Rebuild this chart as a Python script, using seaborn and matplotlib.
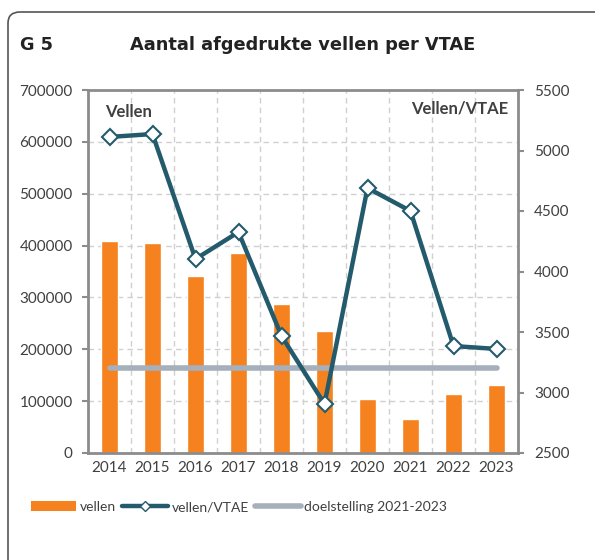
import numpy as np
import pandas as pd
import matplotlib
matplotlib.use("Agg")
import matplotlib.pyplot as plt
import seaborn as sns
from matplotlib.patches import FancyBboxPatch, Patch
from matplotlib.lines import Line2D

# data
jaren = ['2014', '2015', '2016', '2017', '2018', '2019', '2020', '2021', '2022', '2023']
vellen = [409000, 405000, 341000, 385000, 287000, 235000, 104000, 65000, 114000, 131000]
vellen_vtae = [5112, 5136, 4103, 4326, 3467, 2905, 4690, 4500, 3384, 3360]
doelstelling = [3200] * 10

ORANJE = '#F5821F'
BLAUW = '#245B6C'
GRIJS = '#A5B0BC'
AS = '#8C8C8C'
TEKST = '#404040'

sns.set_style('white')
plt.rcParams['font.family'] = ['Lato', 'DejaVu Sans']

fig = plt.figure(figsize=(5.95, 5.6), dpi=100)

# kader rond de grafiek
kader = FancyBboxPatch((8 / 595, -0.05), 1.2, 1 - 12 / 560 + 0.05,
                       boxstyle='round,pad=0,rounding_size=0.02',
                       transform=fig.transFigure, fill=False,
                       edgecolor='#555555', linewidth=1.2, clip_on=False)
fig.patches.append(kader)

fig.text(20 / 595, 1 - 45 / 560, 'G 5', fontsize=12.7, fontweight='bold',
         color='#222222', va='center', family='DejaVu Sans')
fig.text(130 / 595, 1 - 45 / 560, 'Aantal afgedrukte vellen per VTAE',
         fontsize=12.8, fontweight='bold', color='#222222', va='center',
         family='DejaVu Sans')

ax = fig.add_axes([88 / 595, 1 - 453 / 560, (518 - 88) / 595, (453 - 90) / 560])
df = pd.DataFrame({'jaar': jaren, 'vellen': vellen})
sns.barplot(data=df, x='jaar', y='vellen', color=ORANJE, width=0.4,
            saturation=1, ax=ax, zorder=2)
ax.set_xlim(-0.5, len(jaren) - 0.5)
ax.set_ylim(0, 700000)
ax.set_yticks(np.arange(0, 700001, 100000))
ax.set_xlabel('')
ax.set_ylabel('')

ax2 = ax.twinx()
pos = np.arange(len(jaren))
ax2.plot(pos, doelstelling, color=GRIJS, lw=4, solid_capstyle='round', zorder=3)
sns.lineplot(x=pos, y=vellen_vtae, color=BLAUW, lw=3.2, marker='D',
             markersize=8, markerfacecolor='white', markeredgecolor=BLAUW,
             markeredgewidth=1.5, ax=ax2, zorder=4)
ax2.set_ylim(2500, 5500)
ax2.set_yticks(np.arange(2500, 5501, 500))
ax2.set_xlim(-0.5, len(jaren) - 0.5)

# rasterlijnen
ax.set_xticks(np.arange(-0.5, len(jaren), 1), minor=True)
ax.grid(True, which='major', axis='y', ls=(0, (4, 3)), color='#D0D0D0', lw=1)
ax.grid(True, which='minor', axis='x', ls=(0, (4, 3)), color='#D0D0D0', lw=1)
ax.set_axisbelow(True)

for a in (ax, ax2):
    for s in a.spines.values():
        s.set_visible(False)
ax.spines['left'].set_visible(True)
ax.spines['bottom'].set_visible(True)
ax.spines['top'].set_visible(True)
ax2.spines['right'].set_visible(True)
for s in ('left', 'bottom', 'top'):
    ax.spines[s].set_color(AS)
    ax.spines[s].set_linewidth(2)
ax2.spines['right'].set_color(AS)
ax2.spines['right'].set_linewidth(2)

ax.tick_params(axis='y', which='major', length=4.5, width=1.5, color=AS,
               labelsize=11, labelcolor=TEKST, pad=6.5)
ax.tick_params(axis='x', which='major', length=0, labelsize=11,
               labelcolor=TEKST, pad=6)
ax.tick_params(axis='x', which='minor', length=4.5, width=1.5, color=AS)
ax2.tick_params(axis='y', length=4.5, width=1.5, color=AS, labelsize=11,
                labelcolor=TEKST, pad=7)

ax.text(0.04, 0.94, 'Vellen', transform=ax.transAxes, fontsize=12,
        fontweight='bold', color=TEKST, va='center')
ax.text(0.978, 0.95, 'Vellen/VTAE', transform=ax.transAxes, fontsize=12,
        fontweight='bold', color=TEKST, va='center', ha='right')

handles = [
    Patch(facecolor=ORANJE, edgecolor='none'),
    Line2D([0], [0], color=BLAUW, lw=3.2, marker='D', markersize=5,
           markerfacecolor='white', markeredgecolor=BLAUW),
    Line2D([0], [0], color=GRIJS, lw=4, solid_capstyle='round'),
]
fig.legend(handles, ['vellen', 'vellen/VTAE', 'doelstelling 2021-2023'],
           loc='center left', bbox_to_anchor=(18 / 595, 1 - 507 / 560),
           ncol=3, frameon=False, fontsize=10, handlelength=3.3,
           handleheight=0.7, handletextpad=0.25, columnspacing=0.45,
           labelcolor=TEKST)

fig.savefig('out.png', dpi=100)
